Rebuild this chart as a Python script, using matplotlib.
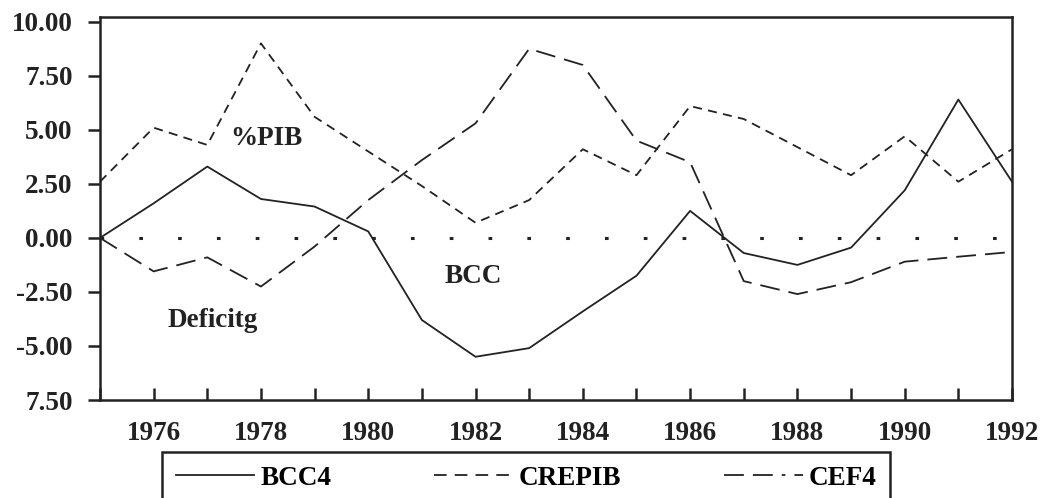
import numpy as np
import matplotlib
matplotlib.use('Agg')
import matplotlib.pyplot as plt
from matplotlib.lines import Line2D

years = np.arange(1975, 1993)

bcc4   = [0.0, 1.6, 3.3, 1.8, 1.45, 0.3, -3.8, -5.5, -5.1, -3.4, -1.75, 1.25, -0.7, -1.25, -0.45, 2.2, 6.4, 2.6]
crepib = [2.6, 5.1, 4.3, 9.0, 5.6, 4.0, 2.4, 0.7, 1.75, 4.1, 2.9, 6.1, 5.5, 4.2, 2.9, 4.7, 2.6, 4.1]
cef4   = [0.0, -1.55, -0.9, -2.25, -0.4, 1.75, 3.6, 5.3, 8.75, 8.0, 4.5, 3.5, -2.0, -2.6, -2.05, -1.1, -0.87, -0.65]

ytick_vals = [-7.5, -5.0, -2.5, 0.0, 2.5, 5.0, 7.5, 10.0]
ytick_labs = ['7.50', '-5.00', '-2.50', '0.00', '2.50', '5.00', '7.50', '10.00']
xtick_labs = [str(y) if y % 2 == 0 else '' for y in years]

plt.rcParams['font.family'] = ['Liberation Serif', 'DejaVu Serif']
plt.rcParams['font.weight'] = 'bold'
fs = 19.5
ink = '#222222'

fig = plt.figure(figsize=(10.44, 4.98), dpi=100)
ax = fig.add_axes([100/1044, 1-400/498, 912/1044, 383/498])

lw = 1.3
ax.plot(years, bcc4, c=ink, lw=lw)
ax.plot(years, crepib, c=ink, lw=lw, dashes=(5, 3.5))
ax.plot(years, cef4, c=ink, lw=lw, dashes=(11, 5))
# zero reference line (sparse dots)
ax.plot([1975, 1992], [0, 0], c=ink, lw=2.2, dashes=(1.2, 11.5))

ax.text(1978.1, 4.6, '%PIB', fontsize=fs, ha='center', va='center', color=ink)
ax.text(1977.1, -3.8, 'Deficitg', fontsize=fs, ha='center', va='center', color=ink)
ax.text(1981.95, -1.8, 'BCC', fontsize=fs, ha='center', va='center', color=ink)

ax.set_xlim(1975, 1992)
ax.set_ylim(-7.5, 10.22)
ax.set_xticks(years)
ax.set_xticklabels(xtick_labs, fontsize=fs)
ax.set_yticks(ytick_vals)
ax.set_yticklabels(ytick_labs, fontsize=fs)
ax.tick_params(axis='x', direction='in', length=9, width=1.8, pad=15, colors=ink)
ax.tick_params(axis='y', direction='out', length=8.6, width=1.8, pad=11, colors=ink)
for s in ax.spines.values():
    s.set_linewidth(1.8)
    s.set_color(ink)

h1 = Line2D([], [], c=ink, lw=lw)
h2 = Line2D([], [], c=ink, lw=lw, dashes=(7, 4.5))
h3 = Line2D([], [], c=ink, lw=lw, dashes=(11, 5, 11, 5, 2, 5))
leg = fig.legend([h1, h2, h3], ['BCC4', 'CREPIB', 'CEF4'], ncol=3, loc='upper center',
                 bbox_to_anchor=(526/1044, 1-452/498), fontsize=fs, frameon=True,
                 fancybox=False, edgecolor=ink, framealpha=1, handlelength=2.9,
                 handletextpad=0.22, columnspacing=3.8, borderpad=0.5, borderaxespad=0)
leg.get_frame().set_linewidth(1.8)

fig.savefig('out.png', dpi=100)
